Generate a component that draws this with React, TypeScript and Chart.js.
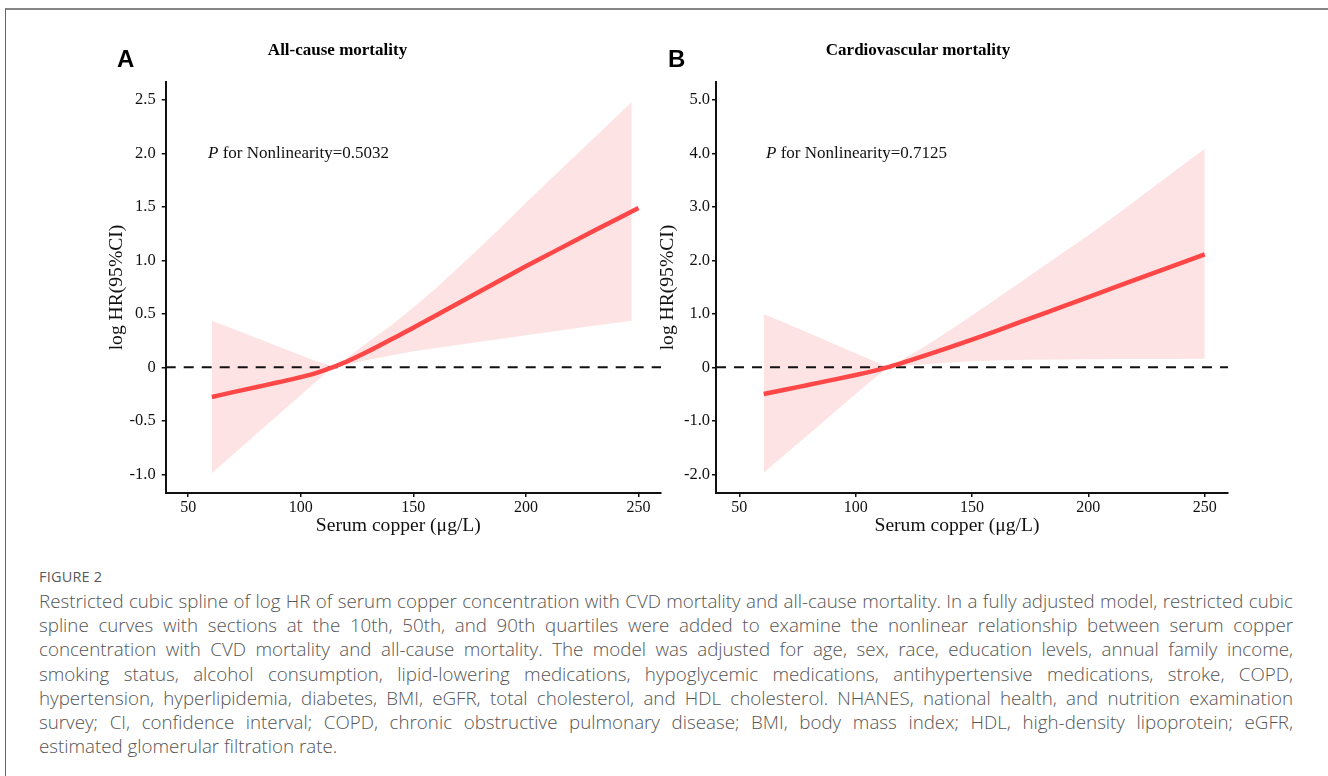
import React, { useEffect, useRef, useState } from 'react';
import { Chart, registerables } from 'chart.js';

Chart.register(...registerables);

// ---------- data ----------
const xRange = [40, 260];
const xTicks = [50, 100, 150, 200, 250];
const refValue = 0;

// Panel A: all-cause mortality
const copperFitA = [60.5, 70, 80, 90, 100, 107, 114, 120, 130, 140, 150, 160, 175, 190, 200, 215, 230, 250];
const fitA = [-0.277, -0.232, -0.186, -0.14, -0.092, -0.052, 0.0, 0.05, 0.15, 0.26, 0.37, 0.485, 0.657, 0.83, 0.945, 1.11, 1.275, 1.49];
const copperA = [60.5, 70, 80, 90, 100, 107, 114, 120, 130, 140, 150, 160, 175, 190, 200, 215, 230, 247];
const upperA = [0.435, 0.358, 0.276, 0.195, 0.113, 0.057, 0.01, 0.08, 0.24, 0.39, 0.56, 0.74, 1.03, 1.33, 1.54, 1.84, 2.14, 2.48];
const lowerA = [-0.99, -0.814, -0.629, -0.444, -0.259, -0.13, -0.005, 0.025, 0.07, 0.11, 0.15, 0.18, 0.225, 0.27, 0.3, 0.345, 0.39, 0.435];
const yTicksA = [-1, -0.5, 0, 0.5, 1, 1.5, 2, 2.5];
const yRangeA = [-1.175, 2.668];

// Panel B: cardiovascular mortality
const copperFitB = [60.5, 70, 80, 90, 100, 107, 113.5, 120, 130, 140, 150, 160, 175, 190, 200, 215, 230, 250];
const fitB = [-0.498, -0.415, -0.325, -0.235, -0.143, -0.075, 0.0, 0.085, 0.225, 0.37, 0.52, 0.675, 0.915, 1.155, 1.315, 1.555, 1.795, 2.115];
const copperB = [60.5, 70, 80, 90, 100, 107, 113.5, 120, 130, 140, 150, 160, 175, 190, 200, 215, 230, 250];
const upperB = [1.0, 0.823, 0.636, 0.449, 0.262, 0.131, 0.01, 0.14, 0.4, 0.68, 0.97, 1.27, 1.72, 2.17, 2.47, 2.95, 3.44, 4.09];
const lowerB = [-1.97, -1.617, -1.245, -0.873, -0.5, -0.24, -0.01, 0.025, 0.06, 0.09, 0.115, 0.13, 0.14, 0.148, 0.152, 0.156, 0.158, 0.162];
const yTicksB = [-2, -1, 0, 1, 2, 3, 4, 5];
const yRangeB = [-2.35, 5.337];

const panelLetters = ['A', 'B'];
const panelTitles = ['All-cause mortality', 'Cardiovascular mortality'];
const pValues = ['0.5032', '0.7125'];
const pPositionA = [58.8, 2.0];
const pPositionB = [61.5, 4.0];
const xTitle = 'Serum copper (\u03bcg/L)';
const yTitle = 'log HR(95%CI)';

const figureLabel = 'FIGURE 2';
const captionLines = [
  'Restricted cubic spline of log HR of serum copper concentration with CVD mortality and all-cause mortality. In a fully adjusted model, restricted cubic',
  'spline curves with sections at the 10th, 50th, and 90th quartiles were added to examine the nonlinear relationship between serum copper',
  'concentration with CVD mortality and all-cause mortality. The model was adjusted for age, sex, race, education levels, annual family income,',
  'smoking status, alcohol consumption, lipid-lowering medications, hypoglycemic medications, antihypertensive medications, stroke, COPD,',
  'hypertension, hyperlipidemia, diabetes, BMI, eGFR, total cholesterol, and HDL cholesterol. NHANES, national health, and nutrition examination',
  'survey; CI, confidence interval; COPD, chronic obstructive pulmonary disease; BMI, body mass index; HDL, high-density lipoprotein; eGFR,',
  'estimated glomerular filtration rate.',
];

// ---------- styles ----------
const SERIF = '"Liberation Serif", "Times New Roman", serif';
const SANS = '"Liberation Sans", Arial, sans-serif';
const CAPTION_FONT = '"Open Sans", "Noto Sans", sans-serif';
const LINE_RED = '#FF4747';
const RIBBON = '#FDE3E3';
const INK = '#111111';

type PanelCfg = {
  xsFit: number[];
  fit: number[];
  xs: number[];
  upper: number[];
  lower: number[];
  yTicks: number[];
  yRange: number[];
  pText: string;
  pPos: number[];
  padding: { left: number; top: number; right: number; bottom: number };
  yWidth: number;
  yTickPad: number;
};

function makeChart(canvas: HTMLCanvasElement, cfg: PanelCfg) {
  const pts = (xs: number[], ys: number[]) => xs.map((x, i) => ({ x, y: ys[i] }));
  const annotation = {
    id: 'textLayer',
    afterDraw(chart: any) {
      const { ctx, scales, chartArea } = chart;
      ctx.save();
      ctx.fillStyle = INK;
      // P annotation
      const x = scales.x.getPixelForValue(cfg.pPos[0]);
      const y = scales.y.getPixelForValue(cfg.pPos[1]);
      ctx.textBaseline = 'middle';
      ctx.textAlign = 'left';
      ctx.font = `italic 17px ${SERIF}`;
      ctx.fillText('P', x, y);
      const w = ctx.measureText('P').width;
      ctx.font = `17px ${SERIF}`;
      ctx.fillText(` for Nonlinearity=${cfg.pText}`, x + w, y);
      // axis titles
      ctx.font = `19.6px ${SERIF}`;
      ctx.textAlign = 'center';
      ctx.fillText(xTitle, (chartArea.left + chartArea.right) / 2 - 15, chartArea.bottom + 33);
      ctx.translate(chartArea.left - 48.5, (chartArea.top + chartArea.bottom) / 2);
      ctx.rotate(-Math.PI / 2);
      ctx.fillText(yTitle, 0, 0);
      ctx.restore();
    },
  };
  const xTickFont = { family: SERIF, size: 16 };
  const yTickFont = { family: SERIF, size: 16.5 };
  const gridOpts = {
    display: true,
    drawOnChartArea: false,
    drawTicks: true,
    tickLength: 4,
    color: INK,
    lineWidth: 1.5,
  };
  return new Chart(canvas, {
    type: 'line',
    data: {
      datasets: [
        {
          data: pts(cfg.xsFit, cfg.fit),
          borderColor: LINE_RED,
          borderWidth: 4.5,
          pointRadius: 0,
          fill: false,
          cubicInterpolationMode: 'monotone',
          borderCapStyle: 'butt',
        },
        {
          data: xRange.map((x) => ({ x, y: refValue })),
          borderColor: INK,
          borderWidth: 2,
          borderDash: [10, 8],
          pointRadius: 0,
          fill: false,
        },
        {
          data: pts(cfg.xs, cfg.upper),
          borderColor: 'rgba(0,0,0,0)',
          borderWidth: 0,
          backgroundColor: RIBBON,
          pointRadius: 0,
          fill: '+1',
          tension: 0,
        },
        {
          data: pts(cfg.xs, cfg.lower),
          borderColor: 'rgba(0,0,0,0)',
          borderWidth: 0,
          pointRadius: 0,
          fill: false,
          tension: 0,
        },
      ],
    },
    options: {
      responsive: false,
      animation: false,
      devicePixelRatio: 1,
      layout: { padding: cfg.padding },
      plugins: {
        legend: { display: false },
        tooltip: { enabled: false },
        title: { display: false },
      },
      scales: {
        x: {
          type: 'linear',
          min: xRange[0],
          max: xRange[1],
          afterBuildTicks: (s: any) => {
            s.ticks = xTicks.map((v) => ({ value: v }));
          },
          afterFit: (s: any) => {
            s.height = 45;
          },
          ticks: {
            font: xTickFont,
            color: INK,
            padding: 1,
            maxRotation: 0,
            callback: (v: any) => String(v),
          },
          grid: gridOpts,
          border: { display: true, color: INK, width: 2 },
          title: { display: false },
        },
        y: {
          type: 'linear',
          min: cfg.yRange[0],
          max: cfg.yRange[1],
          afterBuildTicks: (s: any) => {
            s.ticks = cfg.yTicks.map((v) => ({ value: v }));
          },
          afterFit: (s: any) => {
            s.width = cfg.yWidth;
          },
          ticks: {
            font: yTickFont,
            color: INK,
            padding: cfg.yTickPad,
            callback: (v: any) => (v === 0 ? '0' : Number(v).toFixed(1)),
          },
          grid: gridOpts,
          border: { display: true, color: INK, width: 2 },
          title: { display: false },
        },
      },
    },
    plugins: [annotation],
  } as any);
}

function Panel(props: { left: number; width: number; height: number; cfg: PanelCfg }) {
  const ref = useRef<HTMLCanvasElement | null>(null);
  useEffect(() => {
    if (!ref.current) return;
    const chart = makeChart(ref.current, props.cfg);
    return () => chart.destroy();
  }, []);
  return (
    <div style={{ position: 'absolute', left: props.left, top: 0, width: props.width, height: props.height }}>
      <canvas ref={ref} width={props.width} height={props.height} style={{ display: 'block' }} />
    </div>
  );
}

function fitCaptionSize(): number {
  const base = 16;
  try {
    const ctx = document.createElement('canvas').getContext('2d');
    if (!ctx) return 15.5;
    ctx.font = `300 ${base}px ${CAPTION_FONT}`;
    let size = 100;
    captionLines.slice(0, 6).forEach((t) => {
      const w = ctx.measureText(t).width;
      size = Math.min(size, (base * 1250) / w);
    });
    return size * 0.995;
  } catch (e) {
    return 15.5;
  }
}

export default function App() {
  const [capSize] = useState(fitCaptionSize);
  const cfgA: PanelCfg = {
    xsFit: copperFitA,
    fit: fitA,
    xs: copperA,
    upper: upperA,
    lower: lowerA,
    yTicks: yTicksA,
    yRange: yRangeA,
    pText: pValues[0],
    pPos: pPositionA,
    padding: { left: 105.7, top: 82, right: 19, bottom: 22 },
    yWidth: 60,
    yTickPad: 6,
  };
  const cfgB: PanelCfg = {
    xsFit: copperFitB,
    fit: fitB,
    xs: copperB,
    upper: upperB,
    lower: lowerB,
    yTicks: yTicksB,
    yRange: yRangeB,
    pText: pValues[1],
    pPos: pPositionB,
    padding: { left: 96.3, top: 82, right: 100, bottom: 22 },
    yWidth: 59.7,
    yTickPad: 2,
  };
  const lineCenters = captionLines.map((_, i) => 600 + i * 24.2);
  return (
    <div style={{ position: 'absolute', left: 0, top: 0, width: 1328, height: 776, background: '#fff', overflow: 'hidden' }}>
      <div
        style={{
          position: 'absolute',
          left: 5,
          top: 7.5,
          width: 1330,
          height: 800,
          borderTop: '2px solid #858585',
          borderLeft: '1.5px solid #666',
          boxSizing: 'border-box',
        }}
      />
      <Panel left={0} width={680} height={560} cfg={cfgA} />
      <Panel left={560} width={768} height={560} cfg={cfgB} />
      {[117, 668].map((x, i) => (
        <div
          key={'L' + i}
          style={{
            position: 'absolute',
            left: x,
            top: 59,
            transform: 'translateY(-50%)',
            font: `bold 24px ${SANS}`,
            color: '#000',
            lineHeight: '24px',
          }}
        >
          {panelLetters[i]}
        </div>
      ))}
      {[337.5, 918].map((x, i) => (
        <div
          key={'T' + i}
          style={{
            position: 'absolute',
            left: x,
            top: 50,
            transform: 'translate(-50%, -50%)',
            font: `bold 17px ${SERIF}`,
            color: '#000',
            whiteSpace: 'nowrap',
            lineHeight: '20px',
          }}
        >
          {panelTitles[i]}
        </div>
      ))}
      <div
        style={{
          position: 'absolute',
          left: 39,
          top: 577,
          transform: 'translateY(-50%)',
          font: `500 14.5px ${CAPTION_FONT}`,
          color: '#5a5a5a',
          lineHeight: '18px',
          letterSpacing: '0.2px',
        }}
      >
        {figureLabel}
      </div>
      {captionLines.map((t, i) => {
        const last = i === captionLines.length - 1;
        return (
          <div
            key={'C' + i}
            style={{
              position: 'absolute',
              left: 39,
              top: lineCenters[i] - 12,
              width: 1254,
              height: 24,
              lineHeight: '24px',
              font: `300 ${capSize}px ${CAPTION_FONT}`,
              color: '#555',
              textAlign: last ? 'left' : 'justify',
              textAlignLast: last ? 'left' : 'justify',
            } as any}
          >
            {t}
          </div>
        );
      })}
    </div>
  );
}
